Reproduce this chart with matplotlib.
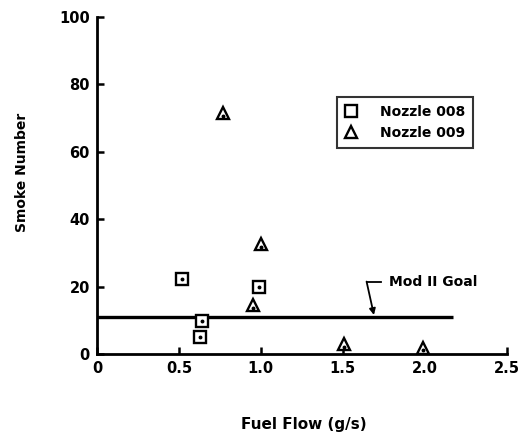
import matplotlib
matplotlib.use("Agg")
import matplotlib.pyplot as plt

plt.rcParams['font.family'] = ['DejaVu Sans']

# Nozzle 008 measurements
n008_flow = [0.52, 0.64, 0.63, 0.99]
n008_smoke = [22.5, 9.9, 5.1, 20.0]

# Nozzle 009 measurements
n009_flow = [0.77, 1.00, 0.95, 1.51, 1.99]
n009_smoke = [71.5, 32.6, 14.6, 3.0, 2.0]

goal_level = 11.1
goal_flow_range = [0.0, 2.17]

x_ticks = [0, 0.5, 1.0, 1.5, 2.0, 2.5]
x_tick_labels = ['0', '0.5', '1.0', '1.5', '2.0', '2.5']
y_ticks = [0, 20, 40, 60, 80, 100]

fig = plt.figure(figsize=(5.24, 4.36), dpi=100)
ax = fig.add_axes([0.185, 0.187, 0.782, 0.774])

ax.plot(goal_flow_range, [goal_level, goal_level], color='black', lw=2.4,
        solid_capstyle='butt', zorder=2)

ax.plot(n008_flow, n008_smoke, linestyle='none', marker='s', markersize=8,
        markerfacecolor='white', markeredgecolor='black', markeredgewidth=1.7,
        label='Nozzle 008', zorder=3)
ax.plot(n009_flow, n009_smoke, linestyle='none', marker='^', markersize=9,
        markerfacecolor='white', markeredgecolor='black', markeredgewidth=1.7,
        label='Nozzle 009', zorder=3)
# centre dots inside each symbol
ax.plot(n008_flow, n008_smoke, linestyle='none', marker='o', markersize=1.8,
        color='black', zorder=4)
ax.plot(n009_flow, [s - 0.8 for s in n009_smoke], linestyle='none', marker='o',
        markersize=1.8, color='black', zorder=4)

# goal annotation with bent leader
ax.plot([1.735, 1.645], [21.5, 21.5], color='black', lw=1.3)
ax.annotate('', xy=(1.69, goal_level + 0.6), xytext=(1.645, 21.6),
            arrowprops=dict(arrowstyle='-|>', color='black', lw=1.3,
                            mutation_scale=9, shrinkA=0, shrinkB=0))
ax.text(1.78, 21.5, 'Mod II Goal', fontsize=10, fontweight='bold',
        va='center', ha='left')

ax.set_xlim(0, 2.5)
ax.set_ylim(0, 100)
ax.set_xticks(x_ticks)
ax.set_xticklabels(x_tick_labels)
ax.set_yticks(y_ticks)

for side in ['top', 'right']:
    ax.spines[side].set_visible(False)
for side in ['left', 'bottom']:
    ax.spines[side].set_linewidth(2.0)

ax.tick_params(direction='in', length=5, width=1.8, labelsize=10.5, pad=5)
for lab in ax.get_xticklabels() + ax.get_yticklabels():
    lab.set_fontweight('bold')

ax.set_xlabel('Fuel Flow (g/s)', fontsize=11, fontweight='bold')
ax.xaxis.set_label_coords(0.505, -0.185)
ax.set_ylabel('Smoke Number', fontsize=10, fontweight='bold')
ax.yaxis.set_label_coords(-0.165, 0.54)

leg = ax.legend(loc='upper left', bbox_to_anchor=(0.585, 0.762),
                borderaxespad=0.0,
                frameon=True, fancybox=False, edgecolor='black',
                prop={'size': 10, 'weight': 'bold'}, handlelength=1.0,
                handletextpad=1.6, borderpad=0.55, labelspacing=0.5)
leg.get_frame().set_linewidth(1.5)

fig.savefig('out.png', dpi=100)
